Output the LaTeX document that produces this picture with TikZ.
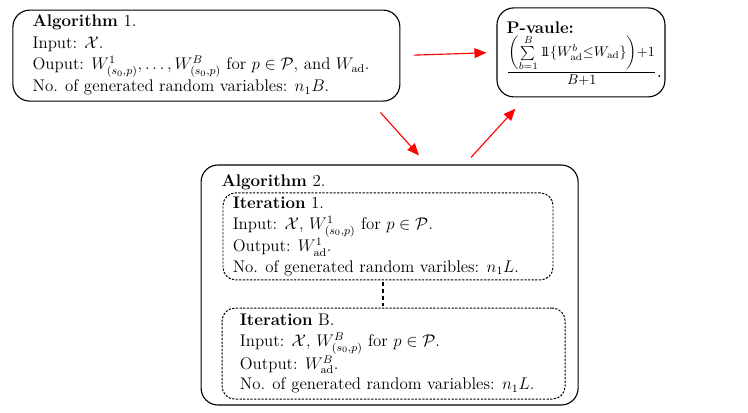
\documentclass[12pt,tikz,border=0pt]{standalone}
\usepackage{amsmath,amssymb}
\usepackage{tikz}
\usetikzlibrary{arrows.meta, positioning, calc}

\newcommand{\indic}{\mathrm{1}\mkern-5.5mu\mathrm{1}}

\tikzset{
  algbox/.style={draw, rounded corners=12pt, line width=0.8pt},
  iterbox/.style={draw, rounded corners=9pt, line width=0.7pt, dash pattern=on 1.6pt off 1pt},
  boxtext/.style={anchor=west, align=left, inner sep=0pt},
  redarrow/.style={-{Triangle[length=8.5pt,width=7pt]}, red, line width=0.8pt}
}

\begin{document}
\begin{tikzpicture}
  \useasboundingbox (0,0) rectangle (18.7,-10.3);

  % first algorithm
  \node[algbox, minimum width=9.675cm, minimum height=2.275cm] (alg1) at (5.16,-1.39) {};
  \node[boxtext] (alg1text) at ($(alg1.west)+(0.5,0.02)$)
    {\textbf{Algorithm} 1.\\[1pt]
     Input: $\mathcal{X}$.\\[1pt]
     Ouput: $W^1_{(s_0,p)},\ldots,W^B_{(s_0,p)}$ for $p\in\mathcal{P}$, and $W_{\mathrm{ad}}$.\\[1pt]
     No. of generated random variables: $n_1B$.};

  % p-value
  \node[algbox, minimum width=4.2cm, minimum height=2.225cm] (pval) at (14.525,-1.31) {};
  \node[boxtext] (pvaltext) at ($(pval.west)+(0.25,-0.03)$)
    {\textbf{P-vaule:}\\
     {\large$\frac{\left(\sum\limits_{b=1}^{B}\indic\{W^b_{\mathrm{ad}}\leq W_{\mathrm{ad}}\}\right)+1}{B+1}$.}};

  % second algorithm with its iterations
  \node[algbox, minimum width=9.425cm, minimum height=6cm] (alg2) at (9.74,-7.125) {};
  \node[anchor=base west, inner sep=0pt] (alg2title) at ($(alg2.north west)+(0.52,-0.55)$) {\textbf{Algorithm} 2.};

  \node[iterbox, minimum width=8.25cm, minimum height=2.175cm] (iter1) at (9.7,-5.91) {};
  \node[boxtext] (iter1text) at ($(iter1.west)+(0.25,0)$)
    {\textbf{Iteration} 1.\\
     Input: $\mathcal{X}$, $W^1_{(s_0,p)}$ for $p\in\mathcal{P}$.\\
     Output: $W^1_{\mathrm{ad}}$.\\
     No. of generated random varibles: $n_1L$.};

  \node[iterbox, minimum width=8.575cm, minimum height=2.275cm] (iterB) at (9.84,-8.84) {};
  \node[boxtext] (iterBtext) at ($(iterB.west)+(0.45,0)$)
    {\textbf{Iteration} B.\\
     Input: $\mathcal{X}$, $W^B_{(s_0,p)}$ for $p\in\mathcal{P}$.\\
     Output: $W^B_{\mathrm{ad}}$.\\
     No. of generated random variables: $n_1L$.};

  \coordinate (gaptop) at ($(iter1.south)+(-0.12,0)$);
  \draw[line width=1.3pt, dash pattern=on 3pt off 2pt, shorten <=1pt, shorten >=1pt]
    (gaptop) -- (gaptop |- iterB.north);

  % connectors
  \draw[redarrow, shorten <=0.33cm, shorten >=0.25cm] (alg1.east) -- (pval.west);
  \draw[redarrow] ($(alg1.south east)+(-0.5,-0.27)$) -- ($(alg2.north)+(0.735,0.225)$);
  \draw[redarrow] ($(alg2.north)+(2.035,0.175)$) -- ($(pval.south west)+(0.475,-0.28)$);
\end{tikzpicture}
\end{document}
